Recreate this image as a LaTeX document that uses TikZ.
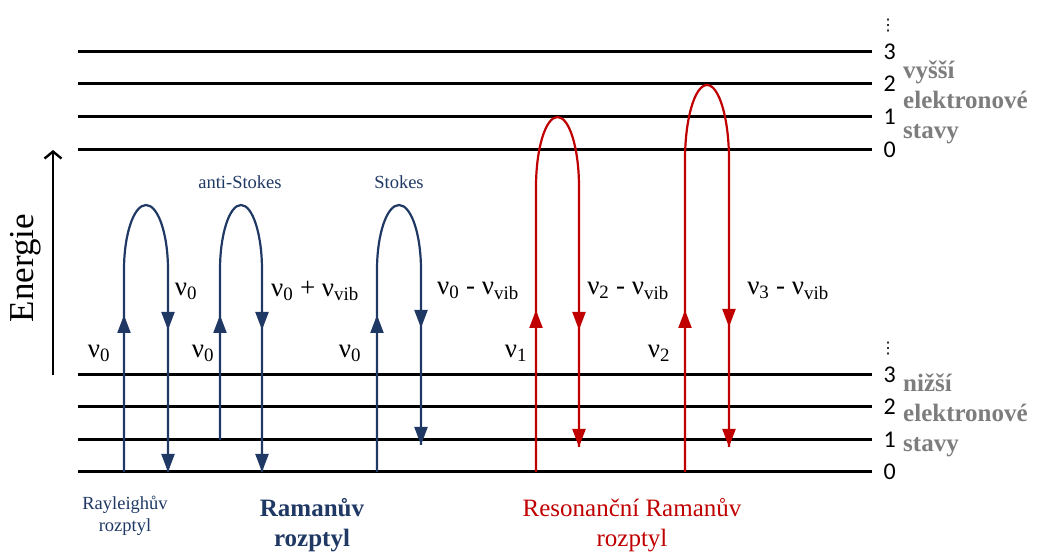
\documentclass[tikz,border=0pt]{standalone}
\usepackage{fontspec}
\setmainfont{Liberation Serif}
\newfontfamily\numfont{Carlito}
\newfontfamily\symfont{DejaVu Sans}
\usepackage{xcolor}
\definecolor{figblue}{RGB}{31,56,100}
\definecolor{figred}{RGB}{192,0,0}
\definecolor{figgray}{RGB}{125,125,125}
\usepackage{tikz}
\usetikzlibrary{arrows.meta,positioning}
\newcommand{\nv}[1]{ν\textsubscript{#1}}

\begin{document}
\begin{tikzpicture}[
  x=1pt,y=1pt,
  lvl/.style={line width=3pt},
  num/.style={font=\numfont\fontsize{24}{24}\selectfont,anchor=west,inner sep=0pt,xshift=10pt},
  dots/.style={font=\symfont\fontsize{16}{16}\selectfont,inner sep=0pt},
  bline/.style={figblue,line width=2.2pt},
  rline/.style={figred,line width=2.2pt},
  tip/.style={-{Triangle[length=18pt,width=13pt]}},
  nu/.style={font=\fontsize{27}{27}\selectfont,inner sep=0pt},
  small/.style={font=\fontsize{18.5}{22}\selectfont,align=center,inner sep=0pt},
  big/.style={font=\fontsize{25}{30}\selectfont,align=center,inner sep=0pt},
  side/.style={font=\bfseries\fontsize{25}{30}\selectfont,figgray,align=left,anchor=west,inner sep=0pt}
]
\useasboundingbox (0,0) rectangle (1037,553);
% levels
\draw[lvl] (78,81) -- (872,81) node[num] (lo0) {0};
\draw[lvl] (78,113) -- (872,113) node[num] (lo1) {1};
\draw[lvl] (78,146) -- (872,146) node[num] (lo2) {2};
\draw[lvl] (78,178) -- (872,178) node[num] (lo3) {3};
\draw[lvl] (78,403) -- (872,403) node[num] (up0) {0};
\draw[lvl] (78,436) -- (872,436) node[num] (up1) {1};
\draw[lvl] (78,469) -- (872,469) node[num] (up2) {2};
\draw[lvl] (78,501) -- (872,501) node[num] (up3) {3};
\node[dots] (lodots) at (888,204) {⋮};
\node[dots] (updots) at (888,527) {⋮};
\node[side] (upper) at (903,451) {vyšší\\elektronové\\stavy};
\node[side] (lower) at (903,138) {nižší\\elektronové\\stavy};
% energy axis
\coordinate (e0) at (53,178); \coordinate (e1) at (53,403);
\draw[line width=2.4pt,-{Straight Barb[length=7pt,width=17pt]}] (e0) -- (e1);
\node[rotate=90,font=\fontsize{35}{35}\selectfont,inner sep=0pt] (energy) at (26,285) {Energie};
% Rayleigh
\coordinate (ray-a) at (124,81); \coordinate (ray-b) at (168,81);
\draw[bline] (ray-a) -- ++(0,202) arc[start angle=180,end angle=0,x radius=22pt,y radius=65pt] -- (ray-b);
\draw[bline,tip] (ray-a) -- ++(0,157);
\draw[bline,tip] (ray-b) ++(0,202) -- ++(0,-60);
\draw[bline,tip] (ray-b) ++(0,142) -- (ray-b);
% anti-Stokes
\coordinate (as-a) at (220,113); \coordinate (as-b) at (262,81);
\draw[bline] (as-a) -- ++(0,170) arc[start angle=180,end angle=0,x radius=21pt,y radius=65pt] -- (as-b);
\draw[bline,tip] (as-a) -- ++(0,125);
\draw[bline,tip] (as-b) ++(0,202) -- ++(0,-60);
\draw[bline,tip] (as-b) ++(0,142) -- (as-b);
% Stokes
\coordinate (st-a) at (377,81); \coordinate (st-b) at (421,108);
\draw[bline] (st-a) -- ++(0,202) arc[start angle=180,end angle=0,x radius=22pt,y radius=65pt] -- (st-b);
\draw[bline,tip] (st-a) -- ++(0,157);
\draw[bline,tip] (st-b) ++(0,175) -- ++(0,-58);
\draw[bline,tip] (st-b) ++(0,117) -- (st-b);
% resonance
\coordinate (r1-a) at (536,81); \coordinate (r1-b) at (579,106);
\draw[rline] (r1-a) -- ++(0,285) arc[start angle=180,end angle=0,x radius=21.5pt,y radius=70pt] -- (r1-b);
\draw[rline,tip] (r1-a) -- ++(0,162);
\draw[rline,tip] (r1-b) ++(0,260) -- ++(0,-143);
\draw[rline,tip] (r1-b) ++(0,117) -- (r1-b);
\coordinate (r2-a) at (685,81); \coordinate (r2-b) at (729,106);
\draw[rline] (r2-a) -- ++(0,312) arc[start angle=180,end angle=0,x radius=22pt,y radius=75pt] -- (r2-b);
\draw[rline,tip] (r2-a) -- ++(0,162);
\draw[rline,tip] (r2-b) ++(0,287) -- ++(0,-167);
\draw[rline,tip] (r2-b) ++(0,120) -- (r2-b);
% frequencies
\node[nu] (nu-ray-a) at (99,200) {\nv{0}};
\node[nu] (nu-ray-b) at (186,262) {\nv{0}};
\node[nu] (nu-as-a) at (203,200) {\nv{0}};
\node[nu] (nu-as-b) at (315,262) {\nv{0} + \nv{vib}};
\node[nu] (nu-st-a) at (350,200) {\nv{0}};
\node[nu] (nu-st-b) at (478,262) {\nv{0} - \nv{vib}};
\node[nu] (nu-r1-a) at (516,200) {\nv{1}};
\node[nu] (nu-r1-b) at (628,262) {\nv{2} - \nv{vib}};
\node[nu] (nu-r2-a) at (659,200) {\nv{2}};
\node[nu] (nu-r2-b) at (788,262) {\nv{3} - \nv{vib}};
% captions
\node[small,figblue] (anti) at (240,371) {anti-Stokes};
\node[small,figblue] (stokes) at (399,371) {Stokes};
\node[small,figblue] (rayl) at (125,37) {Rayleighův\\rozptyl};
\node[big,figblue,font=\bfseries\fontsize{25}{30}\selectfont] (raman) at (312,28) {Ramanův\\rozptyl};
\node[big,figred] (reso) at (632,28) {Resonanční Ramanův\\rozptyl};
\end{tikzpicture}
\end{document}
